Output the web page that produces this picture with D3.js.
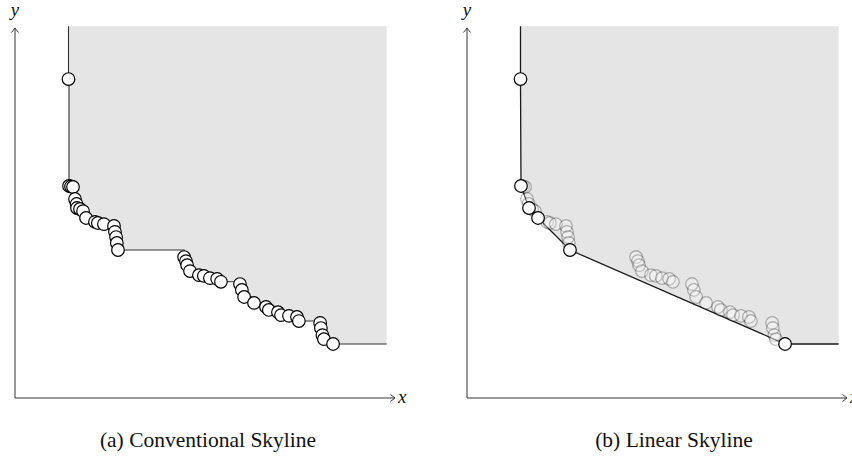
<!DOCTYPE html>
<html>
<head>
<meta charset="utf-8">
<script src="https://cdn.jsdelivr.net/npm/d3@7"></script>
<style>
  html, body { margin: 0; padding: 0; background: #fff; }
  svg { display: block; }
  .serif { font-family: "Liberation Serif", "DejaVu Serif", serif; }
</style>
</head>
<body>
<svg id="chart" width="852" height="460"></svg>
<script>
// Sample points (x, y in data units; smaller is better on both axes)
const pointX = [14.08, 14.21, 14.74, 15.26, 15.79, 16.21, 16.32, 17.10, 17.90, 18.70,
                21.05, 21.80, 23.40, 26.05, 26.30, 26.60, 26.80, 27.10,
                44.50, 45.00, 45.30, 46.05, 48.40, 49.70, 51.30, 53.20, 54.20,
                59.20, 59.70, 60.30, 62.90, 66.05, 66.80, 69.20, 70.00, 72.10, 74.20, 74.70,
                80.30, 80.50, 80.90, 81.30, 83.70];
const pointY = [86.20, 57.30, 57.16, 57.03, 53.78, 52.43, 51.35, 51.08, 50.50, 48.65,
                47.60, 47.30, 47.00, 46.50, 44.90, 43.50, 41.90, 40.00,
                38.10, 37.00, 35.90, 34.30, 33.20, 33.00, 32.40, 32.20, 31.40,
                30.80, 29.20, 27.30, 25.70, 24.60, 23.80, 23.20, 22.40, 22.20, 21.90, 20.80,
                20.30, 18.90, 17.00, 15.90, 14.60];

// Panels and captions
const panelNames = ["(a) Conventional Skyline", "(b) Linear Skyline"];
const axisLabels = ["x", "y"];

// Extent of the shaded (dominated) area in data units
const domainMax = 100;
const regionRight = 97.8;
const regionTop = 100.5;

const svg = d3.select("#chart");
const points = pointX.map((x, i) => ({ x, y: pointY[i], i }));

const panelOffsets = [15, 467];
const captionCenters = [208, 674];
const plotWidth = 380, axisY = 398, plotHeight = 370;
const R = 6.3;

// Lower-left convex chain (monotone chain, lower hull)
function lowerHull(pts) {
  const s = pts.slice().sort((a, b) => a.x - b.x || a.y - b.y);
  const h = [];
  const cross = (o, a, b) => (a.x - o.x) * (b.y - o.y) - (a.y - o.y) * (b.x - o.x);
  for (const p of s) {
    while (h.length >= 2 && cross(h[h.length - 2], h[h.length - 1], p) <= 0) h.pop();
    h.push(p);
  }
  return h;
}

// Non-dominated points (minimising both coordinates)
function skyline(pts) {
  const s = pts.slice().sort((a, b) => a.x - b.x || a.y - b.y);
  const out = [];
  let best = Infinity;
  for (const p of s) {
    if (p.y < best) { out.push(p); best = p.y; }
  }
  return out;
}

function drawAxes(g, x, y) {
  const x0 = x(0), y0 = y(0), x1 = x(domainMax), y1 = y(domainMax);
  const ax = g.append("g").attr("fill", "none").attr("stroke", "#333").attr("stroke-width", 1);
  ax.append("line").attr("x1", x0).attr("y1", y0).attr("x2", x1).attr("y2", y0);
  ax.append("line").attr("x1", x0).attr("y1", y0).attr("x2", x0).attr("y2", y1);
  // open arrow heads
  ax.append("path").attr("d", `M${x1 - 4.5},${y0 - 3.6} Q${x1 - 1.5},${y0 - 1} ${x1},${y0} Q${x1 - 1.5},${y0 + 1} ${x1 - 4.5},${y0 + 3.6}`);
  ax.append("path").attr("d", `M${x0 - 3.6},${y1 + 4.5} Q${x0 - 1},${y1 + 1.5} ${x0},${y1} Q${x0 + 1},${y1 + 1.5} ${x0 + 3.6},${y1 + 4.5}`);
  g.append("text").attr("class", "serif").attr("x", x1 + 3).attr("y", y0 + 4.5)
    .attr("font-style", "italic").attr("font-size", 19).attr("fill", "#111")
    .text(axisLabels[0]);
  g.append("text").attr("class", "serif").attr("x", x0).attr("y", y1 - 12).attr("text-anchor", "middle")
    .attr("font-style", "italic").attr("font-size", 19).attr("fill", "#111")
    .text(axisLabels[1]);
}

panelOffsets.forEach((left, k) => {
  const x = d3.scaleLinear().domain([0, domainMax]).range([left, left + plotWidth]);
  const y = d3.scaleLinear().domain([0, domainMax]).range([axisY, axisY - plotHeight]);
  const g = svg.append("g");

  let boundary;
  if (k === 0) {
    // staircase through the skyline points
    const sky = skyline(points);
    boundary = [[sky[0].x, regionTop]];
    sky.forEach((p, j) => {
      if (j > 0) boundary.push([p.x, sky[j - 1].y]);
      boundary.push([p.x, p.y]);
    });
    boundary.push([regionRight, sky[sky.length - 1].y]);
  } else {
    const hull = lowerHull(points);
    boundary = [[hull[0].x, regionTop]];
    hull.forEach(p => boundary.push([p.x, p.y]));
    boundary.push([regionRight, hull[hull.length - 1].y]);
  }

  const region = boundary.concat([[regionRight, regionTop]]);
  g.append("path")
    .attr("d", d3.line().x(d => x(d[0])).y(d => y(d[1]))(region) + "Z")
    .attr("fill", "#e5e5e5").attr("stroke", "none");

  g.append("path")
    .attr("d", d3.line().x(d => x(d[0])).y(d => y(d[1]))(boundary))
    .attr("fill", "none")
    .attr("stroke", k === 0 ? "#333" : "#1a1a1a")
    .attr("stroke-width", k === 0 ? 1.1 : 1.3);

  drawAxes(g, x, y);

  if (k === 0) {
    g.selectAll("circle.pt").data(points).join("circle")
      .attr("class", "pt")
      .attr("cx", d => x(d.x)).attr("cy", d => y(d.y)).attr("r", R)
      .attr("fill", "#fff").attr("stroke", "#000").attr("stroke-width", 1.2);
  } else {
    const hull = lowerHull(points);
    const onHull = new Set(hull.map(p => p.i));
    g.selectAll("circle.faded").data(points.filter(p => !onHull.has(p.i))).join("circle")
      .attr("class", "faded")
      .attr("cx", d => x(d.x)).attr("cy", d => y(d.y)).attr("r", R)
      .attr("fill", "#fff").attr("stroke", "#000").attr("stroke-width", 1.3)
      .attr("opacity", 0.25);
    g.selectAll("circle.hull").data(hull).join("circle")
      .attr("class", "hull")
      .attr("cx", d => x(d.x)).attr("cy", d => y(d.y)).attr("r", R)
      .attr("fill", "#fff").attr("stroke", "#000").attr("stroke-width", 1.2);
  }

  svg.append("text").attr("class", "serif")
    .attr("x", captionCenters[k]).attr("y", 447)
    .attr("text-anchor", "middle")
    .attr("font-size", 21.5).attr("fill", "#111")
    .text(panelNames[k]);
});
</script>
</body>
</html>
